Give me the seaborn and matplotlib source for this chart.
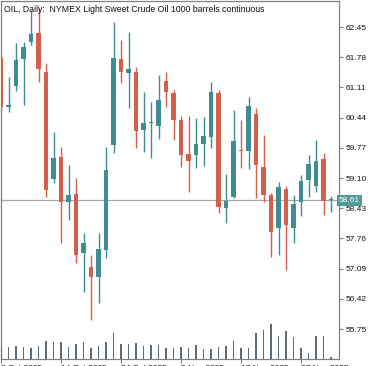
import numpy as np
import pandas as pd
import matplotlib
matplotlib.use("Agg")
import matplotlib.pyplot as plt
import matplotlib.transforms as mtransforms
import seaborn as sns

title = "OIL, Daily:  NYMEX Light Sweet Crude Oil 1000 barrels continuous"
opens = [61.76, 60.67, 61.14, 61.74, 62.12, 62.32, 61.45, 59.08, 59.57, 58.57,
         58.75, 57.44, 57.13, 56.90, 57.50, 59.83, 61.74, 61.43, 61.45, 60.16,
         60.32, 60.25, 61.25, 60.99, 60.39, 59.63, 59.61, 59.85, 60.01, 60.99,
         58.43, 58.68, 59.72, 59.70, 60.52, 59.34, 58.72, 57.99, 58.86, 57.99,
         58.57, 59.06, 58.92, 59.52, 58.61]
highs = [61.85, 61.34, 62.10, 62.12, 62.83, 62.87, 61.65, 60.12, 59.79, 59.39,
         59.10, 57.88, 57.39, 57.88, 59.79, 62.56, 62.16, 62.34, 61.56, 61.01,
         60.79, 61.39, 61.45, 61.05, 60.48, 60.48, 60.43, 60.45, 61.23, 61.05,
         59.19, 60.61, 60.39, 60.90, 60.65, 60.05, 58.77, 59.01, 58.92, 58.72,
         59.17, 59.61, 59.94, 59.65, 58.70]
lows = [60.60, 60.56, 61.03, 60.72, 62.05, 61.23, 58.68, 58.99, 57.66, 58.17,
        57.21, 56.57, 55.95, 56.33, 57.33, 59.65, 61.21, 60.65, 59.77, 59.68,
        59.54, 59.97, 60.67, 59.94, 59.34, 58.79, 59.32, 59.37, 59.77, 58.32,
        58.10, 58.66, 59.32, 59.30, 58.66, 58.57, 57.35, 57.39, 57.06, 57.66,
        58.26, 58.68, 58.79, 58.28, 58.34]
closes = [60.67, 60.72, 61.72, 62.01, 62.29, 61.52, 58.83, 59.54, 58.57, 58.72,
          57.39, 57.66, 56.90, 57.53, 59.28, 61.76, 61.45, 61.52, 60.14, 60.32,
          60.34, 60.83, 61.01, 60.39, 59.61, 59.48, 59.85, 60.03, 61.01, 58.46,
          58.59, 59.92, 59.70, 60.70, 59.39, 58.72, 57.90, 58.90, 58.06, 58.52,
          59.03, 59.41, 59.48, 58.59, 58.61]
volumes = [12, 12, 13, 12, 11, 13, 18, 17, 17, 12,
           15, 17, 11, 13, 17, 26, 15, 15, 16, 13,
           14, 14, 11, 11, 12, 11, 14, 10, 10, 12,
           13, 18, 11, 11, 26, 29, 35, 23, 28, 22,
           11, 6, 23, 23, 2]
tick_idx = [0, 8, 16, 24, 32, 40]
tick_labels = ["2 Oct 2025", "14 Oct 2025", "24 Oct 2025", "5 Nov 2025",
               "17 Nov 2025", "27 Nov 2025"]
price_ticks = [62.45, 61.78, 61.11, 60.44, 59.77, 59.10, 58.43, 57.76, 57.09, 56.42, 55.75]
last_price = 58.61

UP = "#3f8d93"
DOWN = "#d2604a"
VOLC = "#5f6c75"
FRAME = "#808080"

sns.set_theme(style="white")
plt.rcParams['font.family'] = ['Liberation Sans', 'DejaVu Sans']

df = pd.DataFrame({"i": np.arange(len(opens)), "open": opens, "high": highs,
                   "low": lows, "close": closes, "volume": volumes})
df["up"] = df["close"] >= df["open"]
df["color"] = np.where(df["up"], UP, DOWN)

W, H = 375, 366
fig = plt.figure(figsize=(W / 100, H / 100), dpi=100)
ax_l, ax_r, ax_t, ax_b = 1, 339, 1, 359
ax = fig.add_axes([ax_l / W, (H - ax_b) / H, (ax_r - ax_l) / W, (ax_b - ax_t) / H])
ax.set_facecolor("white")

# volume on a twin axis
ax2 = ax.twinx()
sns.barplot(data=df, x="i", y="volume", native_scale=True, width=0.15,
            color=VOLC, saturation=1, errorbar=None, ax=ax2, linewidth=0)
ax2.set_ylim(0, ax_b - ax_t)
ax2.set_yticks([])
ax2.set_ylabel("")
ax2.set_xlabel("")
for s in ax2.spines.values():
    s.set_visible(False)

# last price line
ax.axhline(last_price, color="#a8a8a8", lw=0.9, zorder=1)

# wicks
ax.vlines(df["i"], df["low"], df["high"], colors=df["color"], lw=1.0, zorder=2)
# bodies
bottoms = np.minimum(df["open"], df["close"])
heights = np.maximum(np.abs(df["close"] - df["open"]), 0.03)
ax.bar(df["i"], heights, bottom=bottoms, width=0.6, color=df["color"],
       linewidth=0, zorder=3)

spacing = 7.512
x0 = 0.49
ax.set_xlim((ax_l - x0) / spacing, (ax_r - x0) / spacing)
k = 0.67 / 30.2
ax.set_ylim(62.45 - (ax_b - 27) * k, 62.45 + (27 - ax_t) * k)

ax.yaxis.tick_right()
ax.set_yticks(price_ticks)
ax.set_yticklabels([f"{v:.2f}" for v in price_ticks])
ax.tick_params(axis="y", which="both", right=True, length=3, width=0.8,
               color=FRAME, pad=1.5, labelsize=6.0, labelcolor="#111111")
ax.set_xticks(tick_idx)
ax.set_xticklabels(tick_labels, ha="left")
ax.tick_params(axis="x", bottom=True, length=3, width=0.8, color=FRAME,
               pad=1.5, labelsize=6.0, labelcolor="#111111")
for s in ax.spines.values():
    s.set_color(FRAME)
    s.set_linewidth(0.9)
    s.set_visible(True)

ax.text(0.008, 0.989, title, transform=ax.transAxes, ha="left", va="top",
        fontsize=6.3, color="#111111", zorder=5)

trans = mtransforms.blended_transform_factory(ax.transAxes, ax.transData)
ax.text(1.0, last_price, f"{last_price:.2f}", transform=trans, ha="left", va="center",
        fontsize=6.0, color="white", zorder=6, clip_on=False,
        bbox=dict(boxstyle="square,pad=0.25", fc="#4e9ca0", ec="none"))

fig.savefig("out.png", dpi=100)
